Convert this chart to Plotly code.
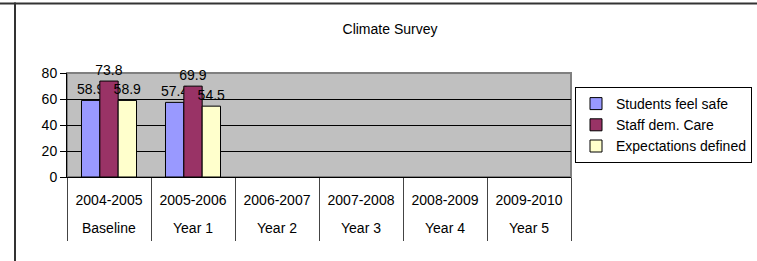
import plotly.graph_objects as go

years = ["2004-2005", "2005-2006", "2006-2007", "2007-2008", "2008-2009", "2009-2010"]
phases = ["Baseline", "Year 1", "Year 2", "Year 3", "Year 4", "Year 5"]
students_safe = [58.9, 57.4, None, None, None, None]
staff_care = [73.8, 69.9, None, None, None, None]
expectations = [58.9, 54.5, None, None, None, None]

series = [
    ("Students feel safe", students_safe, "#9999FF"),
    ("Staff dem. Care", staff_care, "#993366"),
    ("Expectations defined", expectations, "#FFFFCC"),
]

FONT = "Liberation Sans, Arial, sans-serif"
fig = go.Figure()
for i, (name, vals, color) in enumerate(series):
    fig.add_trace(go.Bar(
        x=years, y=vals, name=name,
        marker=dict(color=color, line=dict(color="black", width=1)),
        text=[("%.1f" % v) if v is not None else "" for v in vals],
        textposition="outside", constraintext="none", cliponaxis=False,
        textfont=dict(family=FONT, size=14, color="black"),
    ))

L, R, T, B = 67, 571, 73, 177
W, H = 757, 261
pw, ph = R - L, B - T

def px(x):
    return (x - L) / pw

def py(y):
    return (B - y) / ph

annotations = [
    dict(x=yr, y=py(228), xref="x", yref="paper", text=ph_, showarrow=False,
         xanchor="center", yanchor="middle", font=dict(family=FONT, size=14, color="black"))
    for yr, ph_ in zip(years, phases)
]

fig.update_layout(
    width=W, height=H,
    margin=dict(l=L, r=W - R, t=T, b=H - B, pad=0, autoexpand=False),
    paper_bgcolor="white", plot_bgcolor="#C0C0C0",
    barmode="group", bargap=0.345, bargroupgap=0,
    font=dict(family=FONT, size=14, color="black"),
    title=dict(text="Climate Survey", x=390 / W, xref="container", xanchor="center",
               y=1 - 29 / H, yref="container", yanchor="middle",
               font=dict(family=FONT, size=14, color="black")),
    legend=dict(x=px(752), y=py(125), xanchor="right", yanchor="middle",
                bordercolor="black", borderwidth=1, bgcolor="white",
                font=dict(family=FONT, size=14, color="black"),
                tracegroupgap=0, itemwidth=30),
    showlegend=True,
    annotations=annotations,
    shapes=[
        dict(type="rect", xref="paper", yref="paper", x0=0, x1=1, y0=0, y1=1,
             line=dict(color="#808080", width=2), layer="below"),
        dict(type="rect", xref="paper", yref="paper", x0=px(0), x1=px(W), y0=py(4.5), y1=py(2.5),
             fillcolor="#333333", line=dict(width=0), layer="above"),
        dict(type="rect", xref="paper", yref="paper", x0=px(14), x1=px(16), y0=py(2.5), y1=py(H + 5),
             fillcolor="#333333", line=dict(width=0), layer="above"),
    ],
)
fig.update_yaxes(range=[0, 80], dtick=20, tick0=0, showgrid=True, gridcolor="black", gridwidth=1,
                 showline=True, linecolor="black", linewidth=1, ticks="outside", ticklen=6,
                 tickcolor="black", zeroline=False, tickfont=dict(family=FONT, size=14))
fig.update_xaxes(type="category", showline=True, linecolor="black", linewidth=1,
                 ticks="outside", tickson="boundaries", ticklen=63, tickcolor="#444444", tickwidth=1,
                 ticklabelstandoff=10, showgrid=False,
                 tickfont=dict(family=FONT, size=14))

fig.write_html("out.html", config={"displayModeBar": False},
               post_script="document.body.style.margin='0';")
